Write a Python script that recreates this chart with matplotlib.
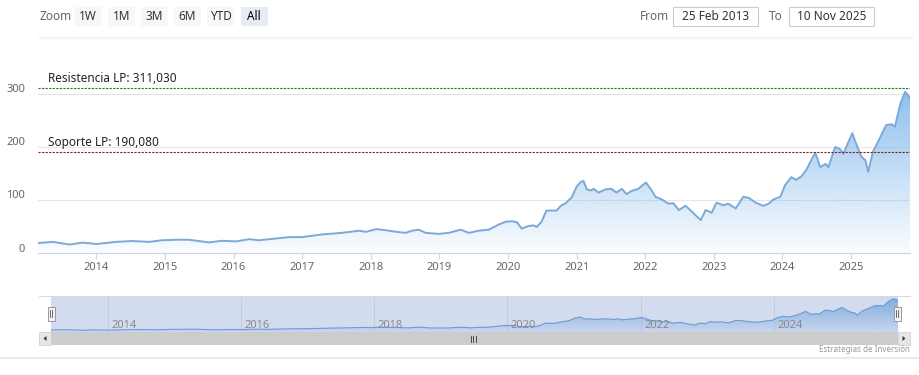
import numpy as np
import matplotlib
matplotlib.use("Agg")
import matplotlib.pyplot as plt
from matplotlib.patches import Polygon, Rectangle
from matplotlib.transforms import ScaledTranslation

# price series (decimal year, value)
years = [2013.15, 2013.17, 2013.36, 2013.61, 2013.80, 2014.00, 2014.29, 2014.52, 2014.77,
         2014.96, 2015.16, 2015.35, 2015.64, 2015.83, 2016.04, 2016.23, 2016.37, 2016.52,
         2016.81, 2017.00, 2017.29, 2017.58, 2017.83, 2017.93, 2018.08, 2018.22, 2018.37,
         2018.51, 2018.60, 2018.70, 2018.80, 2018.99, 2019.14, 2019.31, 2019.43, 2019.57,
         2019.72, 2019.87, 2019.97, 2020.06, 2020.13, 2020.20, 2020.30, 2020.38, 2020.42,
         2020.49, 2020.56, 2020.71, 2020.77, 2020.84, 2020.93, 2021.00, 2021.06, 2021.10,
         2021.15, 2021.21, 2021.25, 2021.32, 2021.42, 2021.51, 2021.58, 2021.66, 2021.73,
         2021.80, 2021.90, 2022.01, 2022.08, 2022.15, 2022.24, 2022.34, 2022.41, 2022.49,
         2022.59, 2022.68, 2022.81, 2022.88, 2022.97, 2023.04, 2023.14, 2023.21, 2023.32,
         2023.43, 2023.51, 2023.61, 2023.72, 2023.80, 2023.87, 2023.97, 2024.04, 2024.13,
         2024.20, 2024.28, 2024.35, 2024.42, 2024.48, 2024.55, 2024.63, 2024.67, 2024.77,
         2024.84, 2024.89, 2024.93, 2025.02, 2025.06, 2025.15, 2025.21, 2025.25, 2025.32,
         2025.43, 2025.51, 2025.59, 2025.64, 2025.72, 2025.79, 2025.83, 2025.86]
prices = [19, 19, 21, 16, 19.6, 17, 21, 22.6, 21,
          24, 25, 25, 20, 23, 22, 26, 24, 26,
          30, 30, 35, 38, 42, 40, 45, 43, 40,
          38, 42, 44, 38, 36, 38, 44, 38, 42,
          44, 54, 59, 60, 58, 46, 51, 52, 49,
          59, 80, 80, 89, 94, 105, 125, 134, 136,
          120, 118, 121, 114, 120, 121, 114, 121, 111,
          117, 121, 133, 121, 106, 101, 93, 94, 81,
          89, 78, 62, 81, 76, 95, 90, 93, 84,
          106, 104, 95, 89, 93, 101, 106, 128, 143,
          138, 145, 157, 175, 189, 162, 168, 162, 200,
          196, 187, 200, 226, 211, 182, 175, 153, 191,
          219, 241, 243, 238, 282, 304, 298, 292]

resistance = 311.030
support = 190.080
year_ticks = list(range(2014, 2026))
nav_ticks = [2014, 2016, 2018, 2020, 2022, 2024]
y_ticks = [0, 100, 200, 300]
zoom_buttons = ["1W", "1M", "3M", "6M", "YTD", "All"]
date_from = "25 Feb 2013"
date_to = "10 Nov 2025"
credit = "Estrategias de Inversión"

W, H = 919, 375
FONT = "Noto Sans"
plt.rcParams["font.family"] = FONT
fig = plt.figure(figsize=(W / 100, H / 100), dpi=100)


def box(x0, y0, x1, y1):
    # pixel box (origin top-left) -> figure fraction rect
    return [x0 / W, 1 - y1 / H, (x1 - x0) / W, (y1 - y0) / H]


def es_num(v):
    # spanish style decimal comma
    return f"{v:.3f}".replace(".", ",")


def gradient_area(ax, x, y, color, top, a_top, a_bot, ymin=0):
    patch = Polygon([(x[0], ymin)] + list(zip(x, y)) + [(x[-1], ymin)],
                    facecolor="none", edgecolor="none")
    ax.add_patch(patch)
    rgba = np.zeros((256, 1, 4))
    rgba[..., :3] = matplotlib.colors.to_rgb(color)
    rgba[..., 3] = np.linspace(a_top, a_bot, 256).reshape(-1, 1)
    im = ax.imshow(rgba, extent=[x[0], x[-1], ymin, top], aspect="auto",
                   origin="upper", zorder=1)
    im.set_clip_path(patch)


# ---- overlay for toolbar, navigator chrome etc. (pixel coordinates)
ui = fig.add_axes([0, 0, 1, 1])
ui.set_xlim(0, W)
ui.set_ylim(H, 0)
ui.axis("off")

ui.text(39, 16.5, "Zoom", fontsize=8.5, color="#666666", va="center", ha="left")
for i, lab in enumerate(zoom_buttons):
    cx = 88 + i * 33.2
    sel = lab == "All"
    ui.add_patch(Rectangle((cx - 13.5, 7), 27, 19, facecolor="#e6ebf5" if sel else "#f7f7f7",
                           edgecolor="none"))
    ui.text(cx, 16.5, lab, fontsize=8.5, ha="center", va="center",
            color="#000000" if sel else "#333333", fontweight="bold" if sel else "normal")

ui.text(640, 16.5, "From", fontsize=8.5, color="#666666", va="center", ha="left")
ui.text(769, 16.5, "To", fontsize=8.5, color="#666666", va="center", ha="left")
for (x0, x1, txt) in [(673, 758, date_from), (789, 874, date_to)]:
    ui.add_patch(Rectangle((x0, 7), x1 - x0, 19, facecolor="white", edgecolor="#cccccc", lw=0.8))
    ui.text((x0 + x1) / 2, 16.5, txt, fontsize=8.5, ha="center", va="center", color="#333333")

ui.plot([40, 912], [38, 38], color="#f2f2f2", lw=1.6)
ui.plot([0, W], [358, 358], color="#e6e6e6", lw=1.2)
ui.plot([39, 910], [296, 296], color="#d8d8d8", lw=0.7)

# scrollbar
ui.add_patch(Rectangle((51, 332), 847, 13, facecolor="#cccccc", edgecolor="none"))
for xa in (39, 898):
    ui.add_patch(Rectangle((xa, 332), 12, 13, facecolor="#e6e6e6", edgecolor="#cccccc", lw=0.5))
ui.add_patch(Polygon([(46.5, 336), (46.5, 341), (43.5, 338.5)], facecolor="#333333", edgecolor="none"))
ui.add_patch(Polygon([(902.5, 336), (902.5, 341), (905.5, 338.5)], facecolor="#333333", edgecolor="none"))
for dx in (-2.5, 0, 2.5):
    ui.plot([473 + dx, 473 + dx], [335.5, 341.5], color="#333333", lw=0.6)

ui.text(910, 350, credit, fontsize=5.8, color="#999999", ha="right", va="center")

# ---- main chart
ax = fig.add_axes(box(38, 60, 910, 253))
ax.set_facecolor("none")
gradient_area(ax, years, prices, "#7cb5ec", 300, 0.85, 0.03)
ax.plot(years, prices, color="#7ca9d8", lw=1.4, zorder=3, solid_joinstyle="round")
ax.set_xlim(years[0], years[-1])
ax.set_ylim(0, 364)

ax.axhline(resistance, color="#1f7a1f", lw=0.8, ls=(0, (2, 1.2)), zorder=4)
ax.axhline(support, color="#8b1a1a", lw=0.8, ls=(0, (2, 1.2)), zorder=4)
ax.annotate(f"Resistencia LP: {es_num(resistance)}", (2013.3, resistance), xytext=(0, 2.5),
            textcoords="offset points", fontsize=8.5, color="#222222", va="bottom")
ax.annotate(f"Soporte LP: {es_num(support)}", (2013.3, support), xytext=(0, 2.5),
            textcoords="offset points", fontsize=8.5, color="#222222", va="bottom")

ax.set_yticks(y_ticks)
ax.set_xticks(year_ticks)
ax.grid(axis="y", color="#e6e6e6", lw=0.8)
ax.set_axisbelow(True)
for s in ("top", "right", "left"):
    ax.spines[s].set_visible(False)
ax.spines["bottom"].set_color("#ccd6eb")
ax.tick_params(axis="y", length=0, pad=9.4, labelsize=8, labelcolor="#666666")
ax.tick_params(axis="x", length=4.5, width=0.8, color="#ccd6eb", pad=2,
               labelsize=8, labelcolor="#666666")
up = ScaledTranslation(0, 5.5 / 100, fig.dpi_scale_trans)
for lab in ax.get_yticklabels():
    lab.set_transform(lab.get_transform() + up)

# ---- navigator
nav = fig.add_axes(box(51, 296, 898, 332))
nav.set_facecolor("#d3dbee")
for yr in nav_ticks:
    nav.axvline(yr, color="#c3cbe0", lw=0.7, zorder=0)
    nav.text(yr + 0.05, 12, str(yr), fontsize=8, color="#8a8a8a", va="bottom", ha="left", zorder=5)
gradient_area(nav, years, prices, "#6fa3e0", 330, 0.9, 0.1)
nav.plot(years, prices, color="#6b9bd3", lw=0.8, zorder=3)
nav.set_xlim(years[0], years[-1])
nav.set_ylim(0, 330)
nav.set_xticks([])
nav.set_yticks([])
for s in nav.spines.values():
    s.set_visible(False)

# navigator handles
for hx in (51, 897):
    ui.add_patch(Rectangle((hx - 3.5, 306.5), 7, 14, facecolor="#f2f2f2", edgecolor="#999999",
                           lw=0.7, zorder=10))
    for dx in (-1, 1):
        ui.plot([hx + dx, hx + dx], [310, 317], color="#333333", lw=0.5, zorder=11)
ui.set_zorder(5)
ui.patch.set_visible(False)

fig.savefig("out.png", dpi=100, facecolor="white")
